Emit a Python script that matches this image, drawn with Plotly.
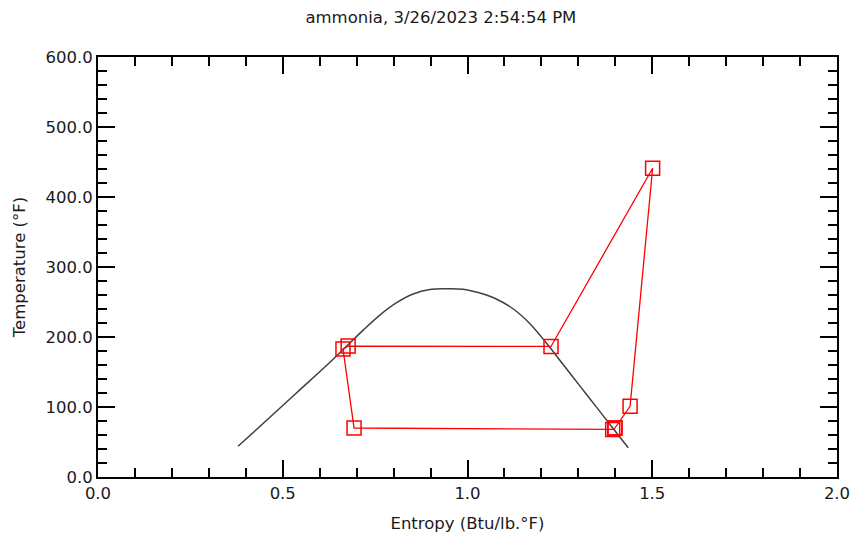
import plotly.graph_objects as go

# Saturation dome (entropy Btu/lb.°F, temperature °F)
dome_s = [0.379, 0.446, 0.537, 0.627, 0.717, 0.762, 0.808, 0.853, 0.898, 0.940, 0.988,
          1.029, 1.075, 1.124, 1.169, 1.214, 1.259, 1.304, 1.349, 1.394, 1.435]
dome_T = [43.9, 76.0, 120.0, 163.5, 209.5, 231.0, 249.0, 261.5, 267.8, 269.0, 268.3,
          263.5, 255.0, 240.0, 219.0, 191.0, 160.6, 130.2, 99.8, 69.4, 41.7]

# Refrigeration cycle state points
cycle_s = [1.399, 1.440, 1.501, 1.226, 0.677, 0.663, 0.693, 1.393, 1.399]
cycle_T = [70.0, 101.0, 441.0, 186.5, 187.0, 183.0, 70.0, 68.0, 70.0]

title_text = "ammonia, 3/26/2023 2:54:54 PM"
x_title = "Entropy (Btu/lb.°F)"
y_title = "Temperature (°F)"

FONT = "DejaVu Sans"
FS = 16.5
TXT = "#1a1a1a"

fig = go.Figure()
fig.add_trace(go.Scatter(x=dome_s, y=dome_T, mode="lines",
                         line=dict(color="#404040", width=1.5, shape="spline", smoothing=1.0),
                         hoverinfo="skip", showlegend=False))
fig.add_trace(go.Scatter(x=cycle_s, y=cycle_T, mode="lines+markers",
                         line=dict(color="#ff0000", width=1.3),
                         marker=dict(symbol="square-open", size=14, color="#ff0000",
                                     line=dict(width=1.5, color="#ff0000")),
                         showlegend=False))

axis_common = dict(
    showgrid=False, zeroline=False, showline=True, linecolor="#000000", linewidth=2,
    mirror="allticks", ticks="inside", ticklen=17, tickwidth=1.5, tickcolor="#000000",
    tickformat=".1f", tickfont=dict(family=FONT, size=FS, color=TXT), automargin=False,
)

fig.update_xaxes(range=[0, 2.0], dtick=0.5, tick0=0,
                 minor=dict(dtick=0.1, ticks="inside", ticklen=9, tickwidth=1.5, tickcolor="#000000"),
                 title=dict(text=x_title, font=dict(family=FONT, size=FS, color=TXT), standoff=16),
                 **axis_common)
fig.update_yaxes(range=[0, 600], dtick=100, tick0=0,
                 minor=dict(dtick=20, ticks="inside", ticklen=9, tickwidth=1.5, tickcolor="#000000"),
                 title=dict(text=y_title, font=dict(family=FONT, size=FS, color=TXT), standoff=16),
                 **axis_common)

fig.update_layout(
    width=853, height=542,
    margin=dict(l=98, r=16, t=57, b=65),
    paper_bgcolor="white", plot_bgcolor="white",
    title=dict(text=title_text, font=dict(family=FONT, size=FS, color=TXT),
               xref="paper", x=0.464, xanchor="center",
               yref="container", y=1 - 17 / 542, yanchor="middle"),
)

fig.write_html("out.html")
